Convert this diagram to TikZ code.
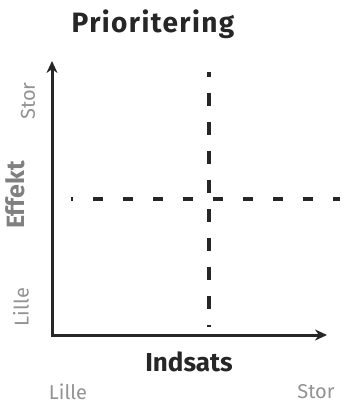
\documentclass[tikz,border=0pt]{standalone}
\usepackage{fontspec}
\setmainfont{Fira Sans}
\usetikzlibrary{arrows.meta}
\definecolor{ink}{HTML}{262626}
\definecolor{lbl}{HTML}{808080}
\begin{document}
\begin{tikzpicture}[x=1pt,y=-1pt,
  boldlbl/.style={font=\bfseries\fontsize{26}{28}\selectfont, text=ink, inner sep=0pt},
  axislbl/.style={font=\bfseries\fontsize{25}{27}\selectfont, text=lbl, inner sep=0pt},
  endlbl/.style={font=\fontsize{20}{22}\selectfont, text=lbl!85, inner sep=0pt},
  axis/.style={line width=3pt, draw=ink, {Stealth[length=12pt,width=11pt]}-{Stealth[length=12pt,width=11pt]}},
  hdash/.style={line width=3.6pt, draw=ink, dash pattern=on 10pt off 20pt, dash phase=8pt},
  vdash/.style={line width=3.6pt, draw=ink, dash pattern=on 13pt off 16pt, dash phase=8pt}]
\useasboundingbox (0,0) rectangle (347,406);
\fill[white] (0,0) rectangle (347,406);
% axes
\coordinate (ytop) at (52,61);
\coordinate (origin) at (52,335);
\coordinate (xend) at (327,335);
\draw[axis] (ytop) -- (origin) -- (xend);
% dashed quadrant lines
\coordinate (vtop) at (209,72);
\coordinate (vbot) at (209,327);
\coordinate (hleft) at (71,199);
\coordinate (hright) at (340,199);
\draw[hdash] (hleft) -- (hright);
\draw[vdash] (vtop) -- (vbot);
% labels
\node[boldlbl, font=\bfseries\fontsize{28}{30}\selectfont\addfontfeature{LetterSpace=5}] (title) at (153,24) {Prioritering};
\node[boldlbl] (indsats) at (189,362) {Indsats};
\node[axislbl, rotate=90] (effekt) at (15,195) {Effekt};
\node[endlbl, rotate=90] (ystor) at (28,101) {Stor};
\node[endlbl, rotate=90] (ylille) at (21,307) {Lille};
\node[endlbl] (xlille) at (68,392) {Lille};
\node[endlbl] (xstor) at (316,392) {Stor};
\end{tikzpicture}
\end{document}
